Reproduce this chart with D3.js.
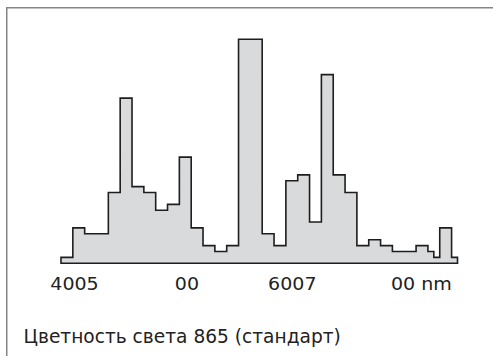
<!DOCTYPE html>
<html>
<head>
<meta charset="utf-8">
<script src="https://cdn.jsdelivr.net/npm/d3@7"></script>
<style>
  html, body { margin: 0; padding: 0; background: #fff; }
  svg { display: block; }
</style>
</head>
<body>
<svg id="chart" width="493" height="356"></svg>
<script>
// Spectral power distribution, 5 nm resolution, stepped bands (start wavelength, relative level)
const bandStart = [380, 390, 400, 420, 430, 440, 450, 460, 470, 480, 490, 500, 510, 520, 530, 550, 560, 570, 580, 590, 600, 610, 620, 630, 640, 650, 660, 680, 690, 695, 700, 710];
const bandLevel = [1, 6, 5, 12, 28, 13, 12, 9, 10, 18, 6, 3, 2, 3, 38, 5, 3, 14, 15, 7, 32, 15, 12, 3, 4, 3, 2, 3, 2, 1, 6, 1];
const bandEnd = 715;

const tickValues = [391, 486, 575, 684];
const tickLabels = ["4005", "00", "6007", "00 nm"];
const caption = "Цветность света 865 (стандарт)";

const svg = d3.select("#chart");
const W = 493, H = 356;
const font = "'DejaVu Sans', sans-serif";
const stretch = 1.1; // wide digits on the wavelength labels

// outer frame (open on the right and bottom edges of the view)
svg.append("rect")
  .attr("x", 6.75).attr("y", 7.75)
  .attr("width", W + 10).attr("height", H + 10)
  .attr("fill", "none")
  .attr("stroke", "#858585")
  .attr("stroke-width", 1.5);

const x = d3.scaleLinear().domain([380, bandEnd]).range([61, 457.5]);
const y = d3.scaleLinear().domain([0, 38]).range([263.3, 39.2]);

const pts = bandStart.map((s, i) => ({ w: s, v: bandLevel[i] }));
pts.push({ w: bandEnd, v: bandLevel[bandLevel.length - 1] });

const area = d3.area()
  .curve(d3.curveStepAfter)
  .x(d => x(d.w))
  .y0(y(0))
  .y1(d => y(d.v));

svg.append("path")
  .datum(pts)
  .attr("d", area)
  .attr("fill", "#d9dadc")
  .attr("stroke", "#1e1e1e")
  .attr("stroke-width", 1.6)
  .attr("stroke-linejoin", "miter");

// wavelength labels
const axis = d3.axisBottom(x)
  .tickValues(tickValues)
  .tickFormat((d, i) => tickLabels[i])
  .tickSize(0)
  .tickPadding(0);

const gAxis = svg.append("g")
  .attr("transform", "translate(0, 290)")
  .call(axis);
gAxis.select(".domain").remove();
gAxis.selectAll("text")
  .attr("dy", null)
  .attr("y", 0)
  .attr("transform", `scale(${stretch},1)`)
  .attr("font-family", font)
  .attr("font-size", 17.3)
  .attr("fill", "#222");

svg.append("text")
  .attr("x", 23.5)
  .attr("y", 342.7)
  .attr("font-family", font)
  .attr("font-size", 18.6)
  .attr("fill", "#222")
  .text(caption);
</script>
</body>
</html>
